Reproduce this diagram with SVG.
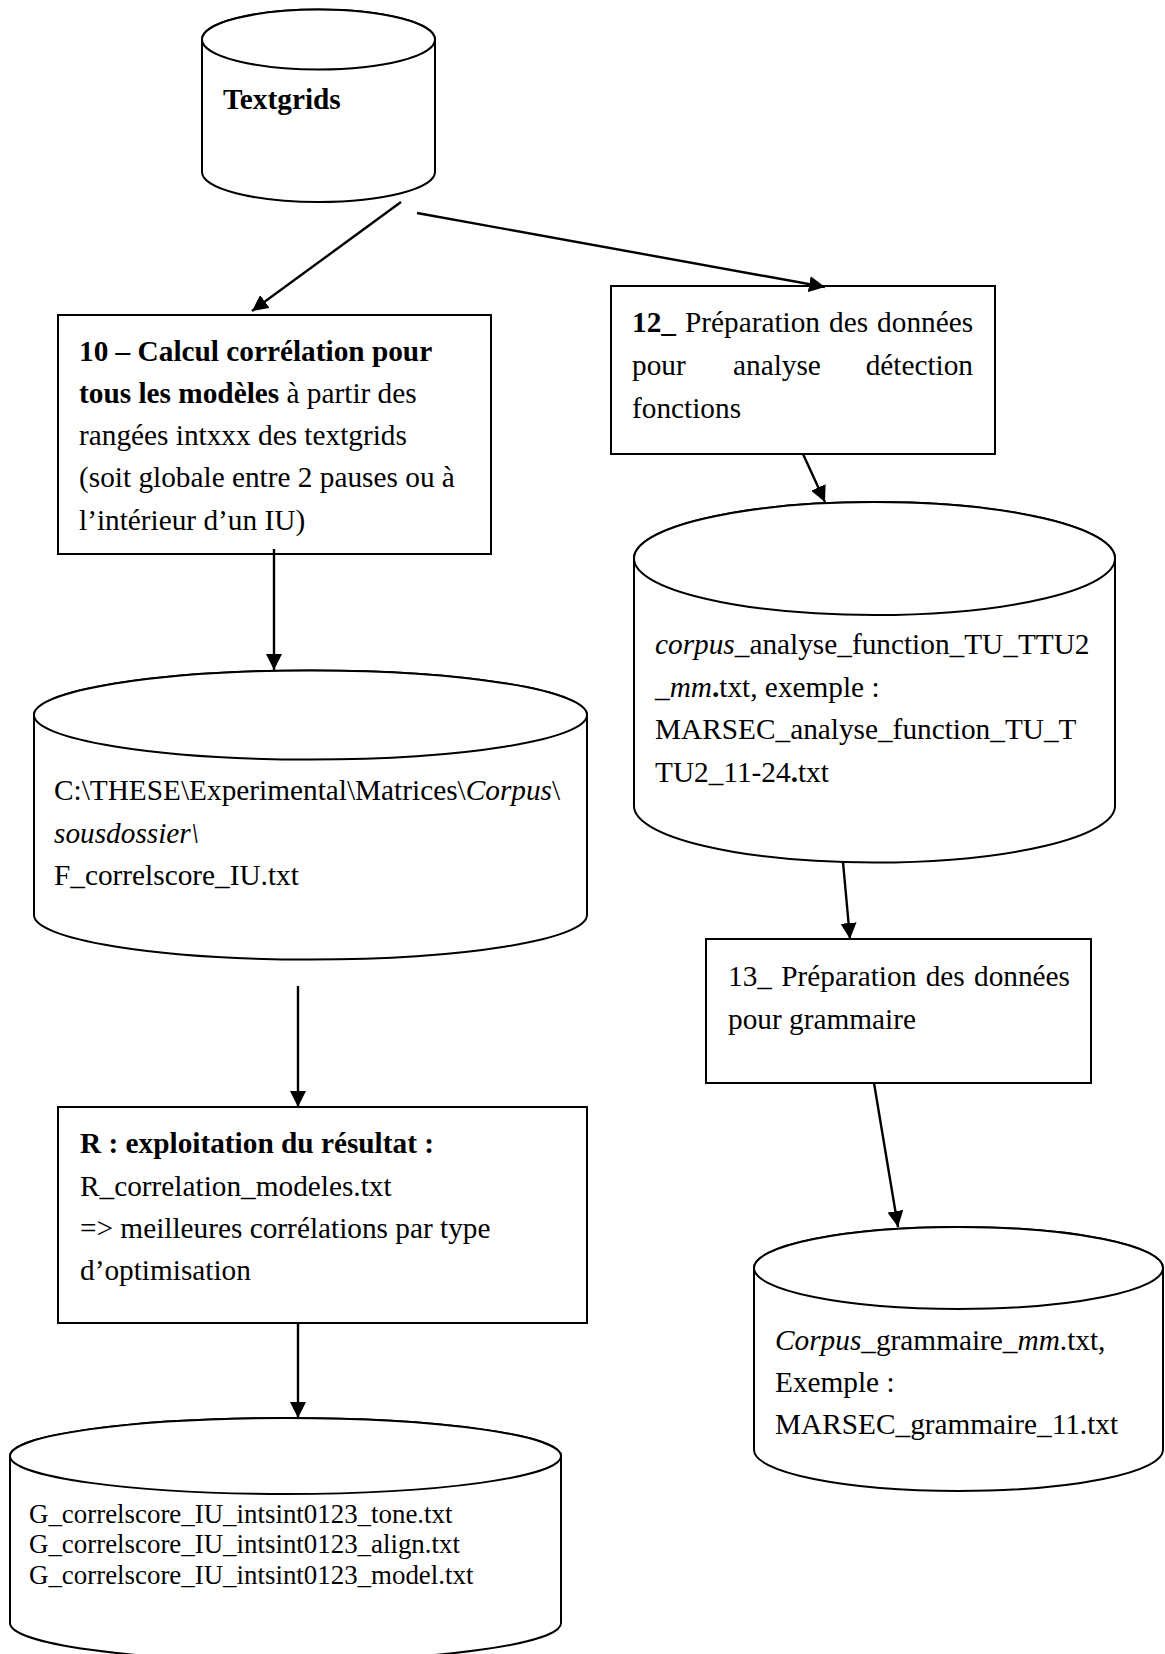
<svg xmlns="http://www.w3.org/2000/svg" width="1165" height="1654" viewBox="0 0 1165 1654">
<style>
.shape{fill:#fff;stroke:#000;stroke-width:2}
.conn{stroke:#000;stroke-width:2.4;fill:none}
text{font-family:"Liberation Serif","Times New Roman",serif;font-size:29.3px;fill:#000}
.small{font-size:26.9px}
.b{font-weight:bold}
.i{font-style:italic}
</style>
<defs>
<marker id="arr" markerUnits="userSpaceOnUse" markerWidth="18" markerHeight="18" refX="16" refY="8" orient="auto">
<path d="M0,0 L16,8 L0,16 z" fill="#000"/>
</marker>
</defs>
<rect width="1165" height="1654" fill="#fff"/>

<g id="textgrids">
<path class="shape" d="M202,39.5 A116.5,30 0 0 1 435,39.5 L435,172 A116.5,30 0 0 1 202,172 Z"/>
<ellipse class="shape" cx="318.5" cy="39.5" rx="116.5" ry="30"/>
<text x="223" y="109" class="b">Textgrids</text>
</g>

<g id="box10">
<rect class="shape" x="58" y="315" width="433" height="239"/>
<text x="79" y="361" class="b">10 – Calcul corrélation pour</text>
<text x="79" y="403"><tspan class="b">tous les modèles</tspan> à partir des</text>
<text x="79" y="445">rangées intxxx des textgrids</text>
<text x="79" y="487">(soit globale entre 2 pauses ou à</text>
<text x="79" y="530">l’intérieur d’un IU)</text>
</g>

<g id="box12">
<rect class="shape" x="611" y="286" width="384" height="168"/>
<text x="632" y="332" word-spacing="1.7"><tspan class="b">12_</tspan> Préparation des données</text>
<text x="632" y="375">pour</text>
<text x="733" y="375">analyse</text>
<text x="973" y="375" text-anchor="end">détection</text>
<text x="632" y="418">fonctions</text>
</g>

<g id="corpus_analyse">
<path class="shape" d="M634,558.5 A240.5,56.5 0 0 1 1115,558.5 L1115,806 A240.5,56.5 0 0 1 634,806 Z"/>
<ellipse class="shape" cx="874.5" cy="558.5" rx="240.5" ry="56.5"/>
<text x="655" y="654"><tspan class="i">corpus</tspan>_analyse_function_TU_TTU2</text>
<text x="655" y="697"><tspan class="i">_mm</tspan><tspan class="b">.</tspan>txt, exemple :</text>
<text x="655" y="739">MARSEC_analyse_function_TU_T</text>
<text x="655" y="782">TU2_11-24<tspan class="b">.</tspan>txt</text>
</g>

<g id="f_correlscore">
<path class="shape" d="M34,715 A276.5,44.5 0 0 1 587,715 L587,915 A276.5,44.5 0 0 1 34,915 Z"/>
<ellipse class="shape" cx="310.5" cy="715" rx="276.5" ry="44.5"/>
<text x="54" y="800">C:\THESE\Experimental\Matrices\<tspan class="i">Corpus</tspan>\</text>
<text x="54" y="843"><tspan class="i">sousdossier\</tspan></text>
<text x="54" y="885">F_correlscore_IU.txt</text>
</g>

<g id="box13">
<rect class="shape" x="706" y="939" width="385" height="144"/>
<text x="728" y="986" word-spacing="2">13_ Préparation des données</text>
<text x="728" y="1029">pour grammaire</text>
</g>

<g id="boxR">
<rect class="shape" x="58" y="1107" width="529" height="216"/>
<text x="80" y="1153" class="b">R : exploitation du résultat :</text>
<text x="80" y="1196">R_correlation_modeles.txt</text>
<text x="80" y="1238">=&gt; meilleures corrélations par type</text>
<text x="80" y="1280">d’optimisation</text>
</g>

<g id="grammaire">
<path class="shape" d="M754,1268 A204.5,41 0 0 1 1163,1268 L1163,1450 A204.5,41 0 0 1 754,1450 Z"/>
<ellipse class="shape" cx="958.5" cy="1268" rx="204.5" ry="41"/>
<text x="775" y="1350"><tspan class="i">Corpus</tspan>_grammaire_<tspan class="i">mm</tspan>.txt,</text>
<text x="775" y="1392">Exemple :</text>
<text x="775" y="1434">MARSEC_grammaire_11.txt</text>
</g>

<g id="g_correlscore">
<path class="shape" d="M10,1456 A275.5,38 0 0 1 561,1456 L561,1623 A275.5,38 0 0 1 10,1623 Z"/>
<ellipse class="shape" cx="285.5" cy="1456" rx="275.5" ry="38"/>
<text x="29" y="1523" class="small">G_correlscore_IU_intsint0123_tone.txt</text>
<text x="29" y="1553" class="small">G_correlscore_IU_intsint0123_align.txt</text>
<text x="29" y="1584" class="small">G_correlscore_IU_intsint0123_model.txt</text>
</g>

<g id="connectors">
<line class="conn" x1="401" y1="202" x2="252" y2="311" marker-end="url(#arr)"/>
<line class="conn" x1="417" y1="213" x2="825" y2="287" marker-end="url(#arr)"/>
<line class="conn" x1="803" y1="454" x2="825" y2="502" marker-end="url(#arr)"/>
<line class="conn" x1="274" y1="549" x2="274" y2="670" marker-end="url(#arr)"/>
<line class="conn" x1="298" y1="986" x2="298" y2="1107" marker-end="url(#arr)"/>
<line class="conn" x1="298" y1="1323" x2="298" y2="1418" marker-end="url(#arr)"/>
<line class="conn" x1="843" y1="862" x2="850" y2="939" marker-end="url(#arr)"/>
<line class="conn" x1="874" y1="1083" x2="898" y2="1227" marker-end="url(#arr)"/>
</g>
</svg>
